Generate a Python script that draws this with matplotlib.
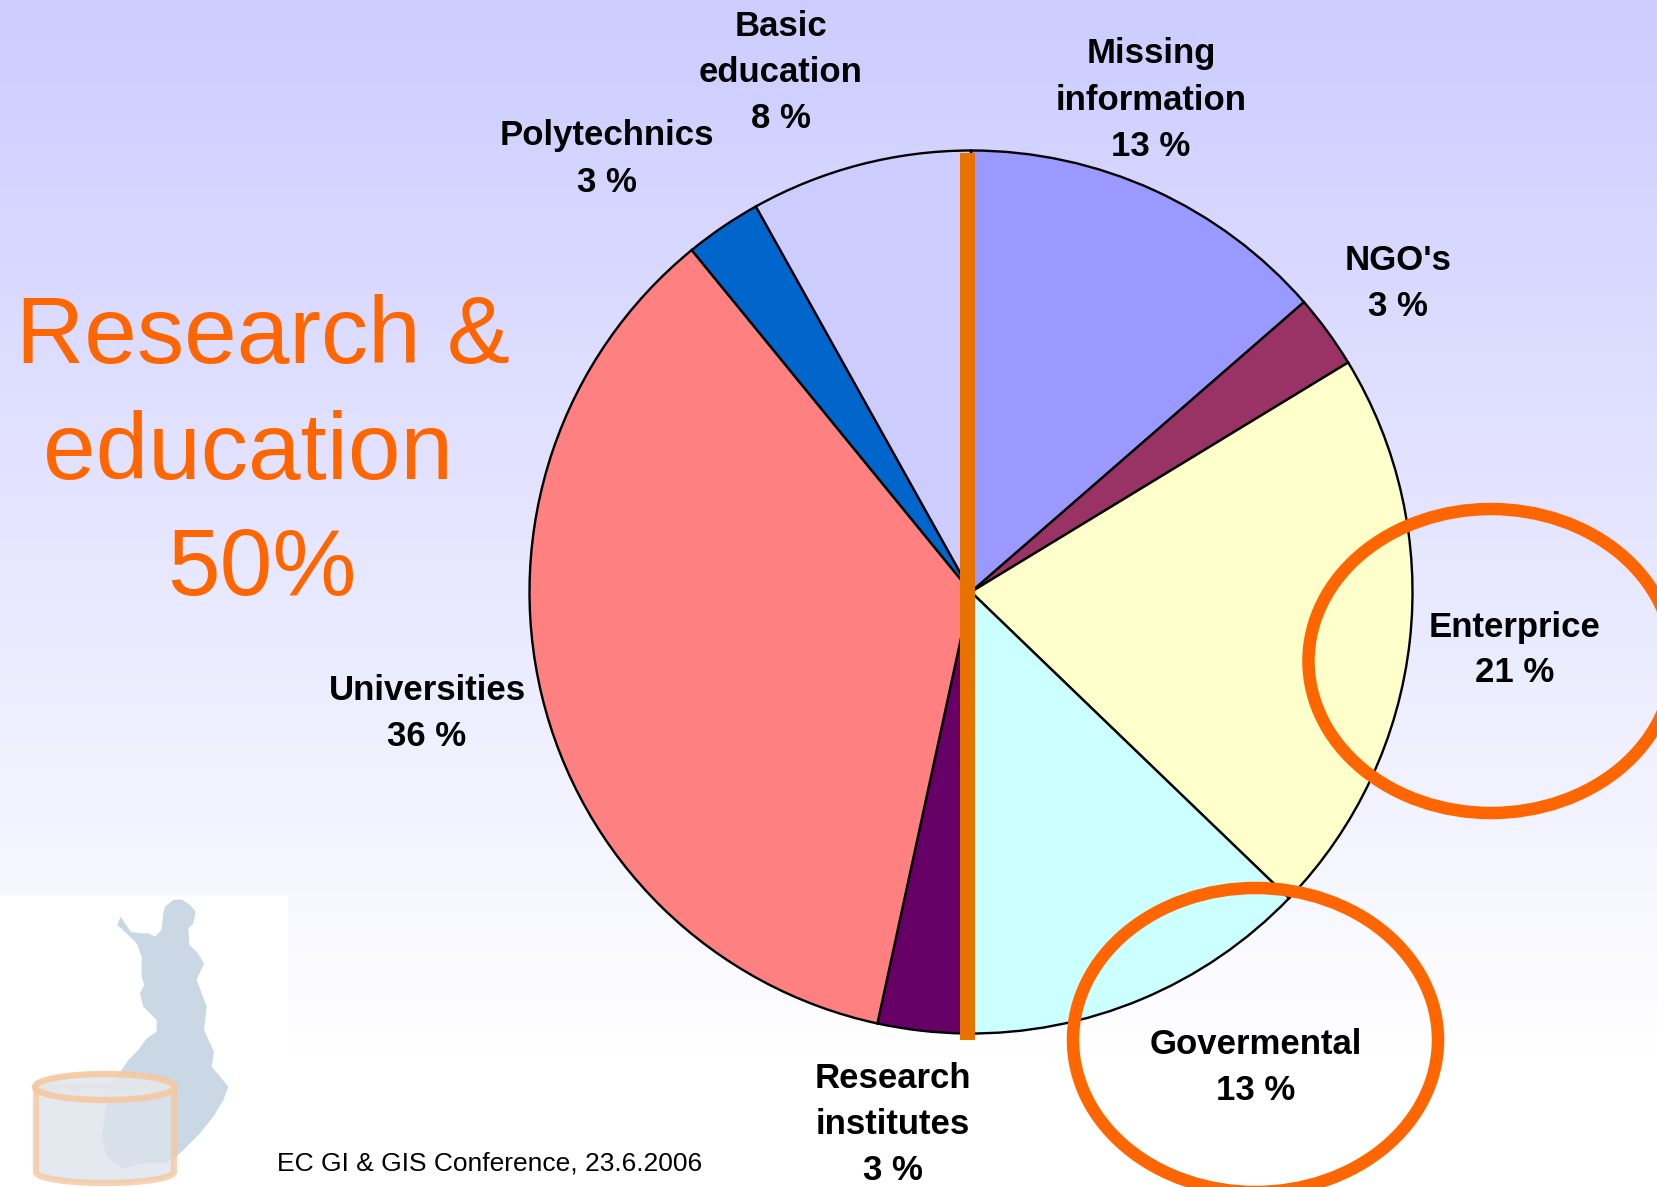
import numpy as np
import matplotlib
matplotlib.use("Agg")
import matplotlib.pyplot as plt
from matplotlib.colors import LinearSegmentedColormap
from matplotlib.patches import Ellipse, Polygon, Rectangle

plt.rcParams["font.family"] = ["Liberation Sans", "DejaVu Sans"]

W, H = 1658, 1187

# slices clockwise from 12 o'clock
categories = ["Missing\ninformation\n13 %", "NGO's\n3 %", "Enterprice\n21 %", "Govermental\n13 %",
              "Research\ninstitutes\n3 %", "Universities\n36 %", "Polytechnics\n3 %", "Basic\neducation\n8 %"]
values = [13.6, 2.7, 20.9, 13.0, 3.2, 35.7, 2.8, 8.1]
colors = ["#9999FF", "#993366", "#FFFFCC", "#CCFFFF", "#660066", "#FF8080", "#0066CC", "#CCCCFF"]
label_pos = [(1151, 100), (1398, 284), (1515, 650), (1256, 1067),
             (893, 1124), (427, 714), (607, 159), (781, 72)]

finland = [(495, 110), (520, 90), (545, 88), (570, 105), (587, 125), (580, 160), (565, 175), (568, 225),
           (590, 245), (612, 280), (590, 330), (605, 370), (620, 410), (612, 480), (630, 520), (642, 545),
           (635, 590), (660, 620), (685, 650), (670, 690), (640, 740), (600, 790), (540, 850), (500, 880),
           (430, 880), (370, 895), (320, 860), (305, 800), (320, 700), (330, 640), (365, 600), (385, 570),
           (415, 540), (440, 505), (470, 485), (470, 450), (430, 410), (420, 370), (433, 345), (425, 320),
           (425, 260), (410, 220), (385, 195), (352, 165), (362, 140), (392, 185), (420, 190), (445, 190),
           (465, 200), (485, 180), (490, 130)]

fig = plt.figure(figsize=(W / 100, H / 100), dpi=100)

# background gradient and logo
bg = fig.add_axes([0, 0, 1, 1], zorder=0)
cmap = LinearSegmentedColormap.from_list("bg", ["#CCCCFF", "#FFFFFF"])
bg.imshow(np.linspace(0, 1, 256).reshape(-1, 1), cmap=cmap, aspect="auto", extent=(0, W, 1060, 0))
bg.add_patch(Rectangle((0, 896), 288, H - 896, fc="white", ec="none"))
bg.add_patch(Polygon([(x / 3, 870 + y / 3) for x, y in finland], fc="#C9D8E4", ec="none"))

# database cylinder, see-through
edge = "#F5C8A0"
t = np.linspace(0, np.pi, 60)
arc_x = 105 + 69 * np.cos(t)
body = np.column_stack([np.r_[arc_x, arc_x[::-1]],
                        np.r_[1087 - 0 * t, 1172 + 11 * np.sin(t)[::-1]]])
bg.add_patch(Polygon(body, fc="#DCE4EC", ec=edge, lw=4.5, alpha=0.8, joinstyle="round"))
bg.add_patch(Ellipse((105, 1087), 140, 26, fc="#E2E8EE", ec=edge, lw=4.5, alpha=0.9))
bg.set_xlim(0, W)
bg.set_ylim(H, 0)
bg.axis("off")

# the pie
cx, cy, r = 971, 592, 441.5
ax = fig.add_axes([(cx - r) / W, 1 - (cy + r) / H, 2 * r / W, 2 * r / H], zorder=1)
wedges, _ = ax.pie(values, colors=colors, startangle=90, counterclock=False,
                   wedgeprops={"edgecolor": "black", "linewidth": 1.7})
for w in wedges:
    w.set_clip_on(False)
ax.set_xlim(-1, 1)
ax.set_ylim(-1, 1)
ax.patch.set_alpha(0)

# overlay in pixel coordinates
top = fig.add_axes([0, 0, 1, 1], zorder=2)
top.set_xlim(0, W)
top.set_ylim(H, 0)
top.axis("off")

top.add_patch(Rectangle((960, 153), 15, 887, fc="#E87200", ec="none"))
top.add_patch(Ellipse((1491, 661), 365, 304, fc="none", ec="#FF6600", lw=9))
top.add_patch(Ellipse((1255.5, 1040), 365, 304, fc="none", ec="#FF6600", lw=9))

for label, (x, y) in zip(categories, label_pos):
    top.text(x, y, label, ha="center", va="center", fontsize=25, fontweight="bold",
             color="black", linespacing=1.5)

for txt, x, y in [("Research &", 263, 339), ("education", 248, 454), ("50%", 262, 570)]:
    top.text(x, y, txt, ha="center", va="center", fontsize=68, color="#FF6600")

top.text(277, 1164, "EC GI & GIS Conference, 23.6.2006", ha="left", va="center", fontsize=19, color="black")

fig.savefig("out.png", dpi=100)
